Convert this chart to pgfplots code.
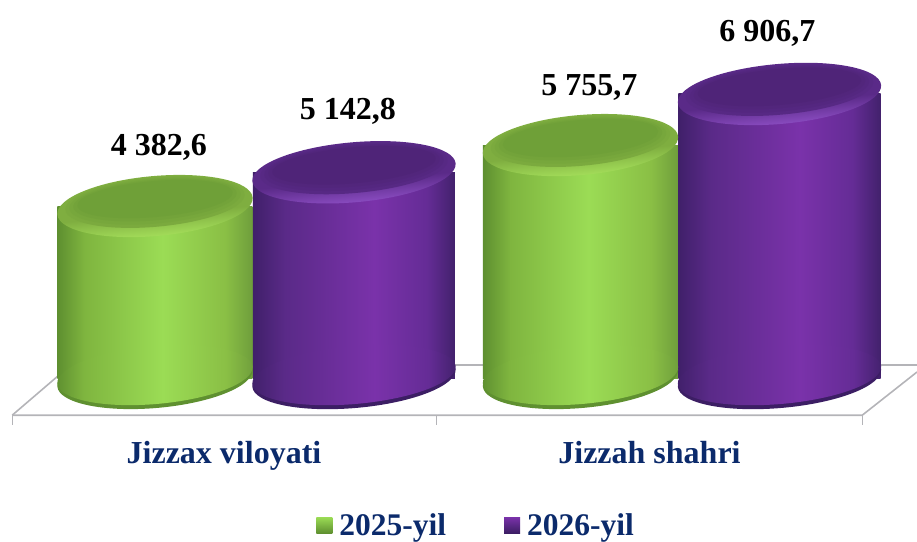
\documentclass[border=0pt]{standalone}
\usepackage{fontspec}
\setmainfont{Liberation Serif}
\usepackage{pgfplots}
\pgfplotsset{compat=1.18}

\definecolor{navy}{HTML}{0B2A6B}
\definecolor{floorline}{HTML}{B4B4B8}
\definecolor{ga}{HTML}{5E8F30}
\definecolor{gb}{HTML}{7FB53F}
\definecolor{gc}{HTML}{9BDC55}
\definecolor{gd}{HTML}{8ABF45}
\definecolor{ge}{HTML}{6F9E3C}
\definecolor{pa}{HTML}{40206A}
\definecolor{pb}{HTML}{5A2A88}
\definecolor{pc}{HTML}{7A32AA}
\definecolor{pd}{HTML}{652C96}
\definecolor{pe}{HTML}{42216C}
\definecolor{grimback}{HTML}{7FAE40}
\definecolor{grimfront}{HTML}{B2F064}
\definecolor{gface}{HTML}{6FA038}
\definecolor{gedge}{HTML}{5F9030}
\definecolor{primback}{HTML}{5A2A88}
\definecolor{primfront}{HTML}{9E5AD8}
\definecolor{pface}{HTML}{4F2478}
\definecolor{pedge}{HTML}{3C1E64}

\tikzset{lab/.style={font=\fontsize{32}{36}\selectfont\bfseries,text=black}}

% cylinder body: pgf fits 25bp..75bp to the width of the path
\pgfdeclarehorizontalshading{cylG}{100bp}{
  color(0bp)=(ga); color(25bp)=(ga); color(32bp)=(gb);
  color(52bp)=(gc); color(68bp)=(gd); color(75bp)=(ge); color(100bp)=(ge)}
\pgfdeclarehorizontalshading{cylP}{100bp}{
  color(0bp)=(pa); color(25bp)=(pa); color(33bp)=(pb);
  color(55bp)=(pc); color(68bp)=(pd); color(75bp)=(pe); color(100bp)=(pe)}
\pgfdeclareverticalshading{rimG}{100bp}{
  color(0bp)=(grimfront); color(25bp)=(grimfront); color(45bp)=(grimback); color(100bp)=(grimback)}
\pgfdeclareverticalshading{rimP}{100bp}{
  color(0bp)=(primfront); color(25bp)=(primfront); color(45bp)=(primback); color(100bp)=(primback)}

% tilted ellipse: x shift, y shift, half axes (rotated by 5 degrees)
\newcommand{\tilted}[4]{%
  \pgfpathellipse{\pgfpoint{#1pt}{#2pt}}
    {\pgfpoint{0.9962*#3pt}{0.0872*#3pt}}{\pgfpoint{-0.0872*#4pt}{0.9962*#4pt}}}

% #1 name, #2 body shading, #3 rim shading, #4 back of rim, #5 inner face, #6 base edge, #7 half width, #8 x shift
\newcommand{\cylmarks}[8]{%
  \pgfdeclareplotmark{cap#1}{%
    \tilted{#8}{0}{#7}{30}\pgfshadepath{#3}{5}\pgfusepath{discard}%
    \foreach \k in {25,50,75,100}{
      \pgfmathsetmacro{\ca}{#7-4-0.16*\k}
      \pgfmathsetmacro{\cb}{27-0.09*\k}
      \pgfmathsetmacro{\cy}{3+0.04*\k}
      \pgfsetfillcolor{#5!\k!#4}%
      \tilted{#8}{\cy}{\ca}{\cb}\pgfusepath{fill}%
    }%
  }%
  \pgfdeclareplotmark{base#1}{%
    \pgfsetfillcolor{#6}%
    \tilted{#8}{0}{#7}{30}\pgfusepath{fill}%
    \tilted{#8}{3}{#7}{29}\pgfshadepath{#2}{0}\pgfusepath{discard}%
  }%
}
\cylmarks{G}{cylG}{rimG}{grimback}{gface}{gedge}{98}{-69}
\cylmarks{P}{cylP}{rimP}{primback}{pface}{pedge}{102}{130}

\begin{document}
\begin{tikzpicture}
\useasboundingbox (0,0) rectangle (917pt,541pt);
\begin{axis}[
    at={(0pt,163pt)}, anchor=south west,
    scale only axis, width=917pt, height=378pt,
    clip=false,
    xmin=-0.5264, xmax=1.6287,
    ymin=509, ymax=9023,
    xtick={0,1},
    xticklabels={Jizzax viloyati,Jizzah shahri},
    ytick=\empty,
    major tick length=0pt,
    axis line style={draw=none},
    major tick style={draw=none},
    xticklabel style={anchor=base,yshift=-85pt,text=navy,
      font=\fontsize{32}{36}\selectfont\bfseries},
    legend style={at={(0.345,-0.389)},anchor=west,draw=none,fill=none,
      inner sep=0pt,outer sep=0pt,legend columns=2,
      font=\fontsize{31.5}{36}\selectfont\bfseries,text=navy,
      /tikz/every odd column/.append style={column sep=5pt},
      /tikz/every even column/.append style={column sep=56pt}},
]
% floor
\addplot[forget plot,draw=floorline,line width=1.6pt,line join=round]
  coordinates {(-0.4977,-329) (1.5,-329) (1.6287,644)};
\addplot[forget plot,draw=floorline,line width=1.6pt]
  coordinates {(-0.4977,-329) (-0.36,802) (1.6287,802)};
\addplot[forget plot,draw=floorline,line width=1.2pt] coordinates {(-0.4977,-329) (-0.4977,-554)};
\addplot[forget plot,draw=floorline,line width=1.2pt] coordinates {(0.5,-329) (0.5,-554)};
\addplot[forget plot,draw=floorline,line width=1.2pt] coordinates {(1.5,-329) (1.5,-554)};

\addlegendimage{legend image code/.code={
  \shade[draw=none,top color=gc,bottom color=gedge] (0pt,-8pt) rectangle (16pt,8pt);}}
\addlegendentry{2025-yil}
\addlegendimage{legend image code/.code={
  \shade[draw=none,top color=pc,bottom color=pedge] (0pt,-8pt) rectangle (16pt,8pt);}}
\addlegendentry{2026-yil}

% 2025-yil
\addplot[forget plot,only marks,mark=baseG] coordinates {(0,509) (1,509)};
\addplot[forget plot,ybar,bar width=195pt,bar shift=-69pt,draw=none,shading=cylG] coordinates {(0,4382.6)};
\addplot[forget plot,ybar,bar width=195pt,bar shift=-69pt,draw=none,shading=cylG] coordinates {(1,5755.7)};
\addplot[forget plot,only marks,mark=capG] coordinates {(0,4382.6) (1,5755.7)};

% 2026-yil
\addplot[forget plot,only marks,mark=baseP] coordinates {(0,509) (1,509)};
\addplot[forget plot,ybar,bar width=202pt,bar shift=130pt,draw=none,shading=cylP] coordinates {(0,5142.8)};
\addplot[forget plot,ybar,bar width=202pt,bar shift=130pt,draw=none,shading=cylP] coordinates {(1,6906.7)};
\addplot[forget plot,only marks,mark=capP] coordinates {(0,5142.8) (1,6906.7)};

\node[lab,xshift=-65pt,yshift=59pt] at (axis cs:0,4382.6) {4 382,6};
\node[lab,xshift=124pt,yshift=61pt] at (axis cs:0,5142.8) {5 142,8};
\node[lab,xshift=-60pt,yshift=58pt] at (axis cs:1,5755.7) {5 755,7};
\node[lab,xshift=118pt,yshift=61pt] at (axis cs:1,6906.7) {6 906,7};
\end{axis}
\end{tikzpicture}
\end{document}
